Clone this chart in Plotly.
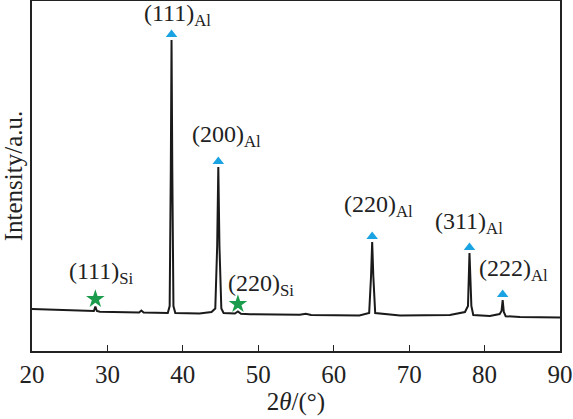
import plotly.graph_objects as go

# XRD pattern (2theta in degrees, intensity in a.u.)
two_theta = [20.0, 23.6, 27.6, 28.2, 28.4, 28.6, 29.0, 31.6, 34.2, 34.5, 34.8,
             38.0, 38.25, 38.4, 38.5, 38.6, 38.75, 39.0, 42.2, 43.8, 44.3,
             44.55, 44.7, 44.85, 45.1, 45.4, 46.9, 47.3, 47.7, 48.9, 55.5,
             56.3, 57.0, 63.4, 64.7, 64.95, 65.1, 65.25, 65.5, 68.8, 75.4,
             77.4, 77.8, 78.0, 78.1, 78.25, 78.5, 80.7, 82.0, 82.25, 82.4,
             82.55, 82.8, 84.7, 90.0]
intensity = [840, 820, 790, 800, 890, 800, 785, 780, 770, 810, 770,
             760, 900, 3600, 6220, 3600, 900, 760, 750, 780, 850,
             2100, 3680, 2100, 850, 760, 750, 790, 745, 735, 725,
             745, 722, 710, 760, 1500, 2180, 1500, 760, 710, 720,
             780, 900, 1960, 1600, 900, 720, 700, 740, 800, 1020,
             780, 695, 680, 670]

# peak labels
al_peaks = [38.5, 44.7, 65.1, 78.0, 82.4]
al_heights = [6220, 3680, 2180, 1960, 1020]
al_labels = ["(111)", "(200)", "(220)", "(311)", "(222)"]
si_peaks = [28.4, 47.3]
si_heights = [890, 790]
si_labels = ["(111)", "(220)"]

serif = "Times New Roman, Liberation Serif, serif"

fig = go.Figure()

fig.add_trace(go.Scatter(x=two_theta, y=intensity, mode="lines",
                         line=dict(color="#1a1a1a", width=2),
                         hoverinfo="skip"))

fig.add_trace(go.Scatter(x=al_peaks, y=[h + 110 for h in al_heights], mode="markers",
                         marker=dict(symbol="triangle-up", size=10, color="#1aa3e2")))
fig.add_trace(go.Scatter(x=si_peaks, y=[h + 150 for h in si_heights], mode="markers",
                         marker=dict(symbol="star", size=14, color="#1a9c4c")))

# label offsets in pixels from the peak top (dx, dy)
al_shift = [(6, 25), (8, 31), (6, 36), (0, 30), (11, 30)]
si_shift = [(6, 34), (23, 27)]

for x, h, lab, (dx, dy) in zip(al_peaks, al_heights, al_labels, al_shift):
    fig.add_annotation(x=x, y=h, text=f"{lab}<sub>Al</sub>", showarrow=False,
                       xshift=dx, yshift=dy, font=dict(family=serif, size=24, color="#222"))
for x, h, lab, (dx, dy) in zip(si_peaks, si_heights, si_labels, si_shift):
    fig.add_annotation(x=x, y=h, text=f"{lab}<sub>Si</sub>", showarrow=False,
                       xshift=dx, yshift=dy, font=dict(family=serif, size=24, color="#222"))

fig.update_layout(
    width=573, height=419,
    margin=dict(l=32, r=13, t=1, b=68),
    plot_bgcolor="white", paper_bgcolor="white",
    showlegend=False,
    font=dict(family=serif, color="#222"),
)
fig.update_xaxes(range=[20, 90], dtick=10, ticks="inside", ticklen=6, tickwidth=1.3,
                 tickcolor="#222", showline=True, mirror=True, linecolor="#222",
                 linewidth=1.5, showgrid=False, zeroline=False, automargin=False,
                 tickfont=dict(family=serif, size=25),
                 title=dict(text="2<i>θ</i>/(°)", font=dict(family=serif, size=25), standoff=4))
fig.update_yaxes(range=[0, 7000], showticklabels=False, ticks="", showline=True,
                 mirror=True, linecolor="#222", linewidth=1.5, showgrid=False,
                 zeroline=False, automargin=False,
                 title=dict(text="Intensity/a.u.", font=dict(family=serif, size=25), standoff=4))

# page body has a default 8px margin; drop it so the figure fills the window
fig.write_html("out.html", config={"displayModeBar": False},
               post_script="document.body.style.margin='0';")
